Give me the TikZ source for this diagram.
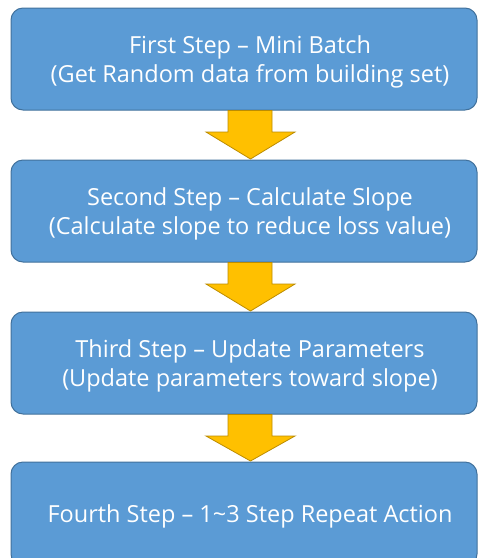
\documentclass[tikz,border=0pt]{standalone}
\usepackage{fontspec}
\setmainfont{Open Sans}
\begin{document}
\begin{tikzpicture}[x=1pt,y=-1pt,
  stepbox/.style={draw=boxedge, fill=boxfill, line width=1pt, rounded corners=12pt},
  steptext/.style={text=white, align=center, inner sep=0pt, font=\fontsize{23.5}{29}\selectfont},
  flowarrow/.style={draw=arrowedge, fill=arrowfill, line width=0.8pt, line join=miter}]
\definecolor{boxfill}{HTML}{5B9BD5}
\definecolor{boxedge}{HTML}{41719C}
\definecolor{arrowfill}{HTML}{FFC000}
\definecolor{arrowedge}{HTML}{BC8C00}
\useasboundingbox (0,0) rectangle (479,558);
\clip (0,0) rectangle (479,558);
% step boxes
\draw[stepbox] (11,8) rectangle (477,110);
\draw[stepbox] (11,160) rectangle (477,262);
\draw[stepbox] (11,312) rectangle (477,414);
\draw[stepbox] (11,462) rectangle (477,566);
% step texts
\node[steptext] (s1) at (250,62) {First Step – Mini Batch\\(Get Random data from building set)};
\node[steptext] (s2) at (250,214) {Second Step – Calculate Slope\\(Calculate slope to reduce loss value)};
\node[steptext] (s3) at (250,366) {Third Step – Update Parameters\\(Update parameters toward slope)};
\node[steptext] (s4) at (250,516) {Fourth Step – 1\textasciitilde 3 Step Repeat Action};
% block arrows between the steps
\foreach \t/\b in {110/160, 262/312, 414/462}{
  \draw[flowarrow] (228,\t+0.5) -- (272,\t+0.5) -- (272,\t+22) -- (295,\t+22)
     -- (250.5,\b-1) -- (206,\t+22) -- (228,\t+22) -- cycle;
}
\end{tikzpicture}
\end{document}
